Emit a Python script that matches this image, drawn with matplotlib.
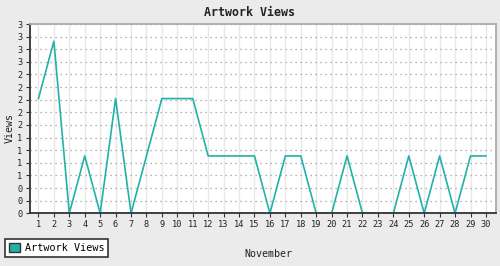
import matplotlib
matplotlib.use("Agg")
from matplotlib import pyplot as plt
from matplotlib.patches import Patch
from matplotlib.ticker import FixedLocator, FuncFormatter

# daily views for November
days = list(range(1, 31))
views = [2, 3, 0, 1, 0, 2, 0, 1, 2, 2, 2, 1, 1, 1, 1,
         0, 1, 1, 0, 0, 1, 0, 0, 0, 1, 0, 1, 0, 1, 1]
series_name = "Artwork Views"
title = "Artwork Views"
x_label = "November"
y_label = "Views"

line_color = "#20b2aa"
mono = "DejaVu Sans Mono"

fig = plt.figure(figsize=(5, 2.66), dpi=100, facecolor="#ebebeb")
ax = fig.add_axes([29.5 / 500, 1 - 213.3 / 266, 466 / 500, 189.3 / 266])
ax.set_facecolor("white")

ax.plot(days, views, color=line_color, linewidth=1.2)

top = max(views) * 1.1
step = top / 15
ax.set_ylim(0, top)
ax.set_xlim(0.42, 30.62)

ax.yaxis.set_major_locator(FixedLocator([step * k for k in range(16)]))
ax.yaxis.set_major_formatter(FuncFormatter(lambda v, p: "%d" % round(v)))
ax.set_xticks(days)

ax.xaxis.grid(True, color="#e8e8e8", linewidth=1, linestyle="-")
ax.yaxis.grid(True, color="#999999", linewidth=0.9, linestyle=(0, (1, 3)))
ax.set_axisbelow(True)

for side in ("left", "bottom"):
    ax.spines[side].set_color("#333333")
    ax.spines[side].set_linewidth(1.3)
for side in ("top", "right"):
    ax.spines[side].set_color("#aaaaaa")
    ax.spines[side].set_linewidth(1.3)

ax.tick_params(axis="both", length=3, width=0.8, color="#333333",
               labelsize=6.2, labelcolor="#222222", pad=2)
for lab in ax.get_xticklabels() + ax.get_yticklabels():
    lab.set_family(mono)

fig.text(0.5, 1 - 12 / 266, title, ha="center", va="center",
         fontsize=8.4, fontweight="bold", family=mono, color="#222222")
fig.text(268 / 500, 1 - 254 / 266, x_label, ha="center", va="center",
         fontsize=7.2, family=mono, color="#222222")
fig.text(10 / 500, 1 - 128 / 266, y_label, ha="center", va="center",
         rotation=90, fontsize=7.2, family=mono, color="#222222")

handle = Patch(facecolor=line_color, edgecolor="#333333", linewidth=1)
leg = fig.legend([handle], [series_name], loc="lower left",
                 bbox_to_anchor=(5 / 500, 1 - 257 / 266),
                 prop={"family": mono, "size": 7.3},
                 fancybox=False, framealpha=1, borderaxespad=0,
                 handlelength=1.1, handleheight=1.1, handletextpad=0.45,
                 borderpad=0.4)
leg.get_frame().set_edgecolor("#333333")
leg.get_frame().set_linewidth(1.2)

fig.savefig("out.png", dpi=100, facecolor=fig.get_facecolor())
